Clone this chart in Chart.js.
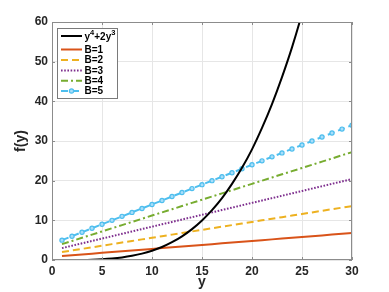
<!DOCTYPE html>
<html>
<head>
<meta charset="utf-8">
<script src="https://cdn.jsdelivr.net/npm/chart.js@4"></script>
<style>
  html, body { margin: 0; padding: 0; background: #fff; }
  #wrap { width: 389px; height: 292px; }
</style>
</head>
<body>
<div id="wrap"><canvas id="chart" width="389" height="292"></canvas></div>
<script>
// values
const yValues = [1,2,3,4,5,6,7,8,9,10,11,12,13,14,15,16,17,18,19,20,21,22,23,24,25,26,27,28,29,30];
const curveValues = [0,0.01,0.03,0.09,0.2,0.38,0.65,1.05,1.6,2.34,3.28,4.49,5.97,7.79,9.97,12.56,15.6,19.2,23.25,27.9,33.3,39.3,46.1,53.6,62.1,71.5];
const b1Values = [1.0,1.2,1.4,1.6,1.8,2.0,2.2,2.4,2.6,2.8,3.0,3.2,3.4,3.6,3.8,4.0,4.2,4.4,4.6,4.8,5.0,5.2,5.4,5.6,5.8,6.0,6.2,6.4,6.6,6.8];
const b2Values = [2.0,2.4,2.8,3.2,3.6,4.0,4.4,4.8,5.2,5.6,6.0,6.4,6.8,7.2,7.6,8.0,8.4,8.8,9.2,9.6,10.0,10.4,10.8,11.2,11.6,12.0,12.4,12.8,13.2,13.6];
const b3Values = [3.0,3.6,4.2,4.8,5.4,6.0,6.6,7.2,7.8,8.4,9.0,9.6,10.2,10.8,11.4,12.0,12.6,13.2,13.8,14.4,15.0,15.6,16.2,16.8,17.4,18.0,18.6,19.2,19.8,20.4];
const b4Values = [4.0,4.8,5.6,6.4,7.2,8.0,8.8,9.6,10.4,11.2,12.0,12.8,13.6,14.4,15.2,16.0,16.8,17.6,18.4,19.2,20.0,20.8,21.6,22.4,23.2,24.0,24.8,25.6,26.4,27.2];
const b5Values = [5,6,7,8,9,10,11,12,13,14,15,16,17,18,19,20,21,22,23,24,25,26,27,28,29,30,31,32,33,34];
const xTicks = [0,5,10,15,20,25,30];
const yTicks = [0,10,20,30,40,50,60];
const seriesNames = ['y^4+2y^3','B=1','B=2','B=3','B=4','B=5'];

const FONT = '"Liberation Sans", Arial, Helvetica, sans-serif';
const AXIS_GRAY = '#8c8c8c';
const TEXT = '#262626';
const MARKER_FILL = '#a9defa';

function pts(vals) {
    return vals.map((v, i) => ({ x: yValues[i], y: v }));
}

const styles = [
    { color: '#000000', dash: [], width: 2 },
    { color: '#D95319', dash: [], width: 2 },
    { color: '#EDB120', dash: [7, 4], width: 2 },
    { color: '#7E2F8E', dash: [1.6, 1.6], width: 2 },
    { color: '#77AC30', dash: [7, 3, 2, 3], width: 2 },
    { color: '#4DBEEE', dash: [7, 4], width: 2, marker: true }
];
const allValues = [curveValues, b1Values, b2Values, b3Values, b4Values, b5Values];

const datasets = allValues.map((vals, i) => ({
    label: seriesNames[i],
    data: pts(vals),
    borderColor: styles[i].color,
    backgroundColor: styles[i].color,
    borderWidth: styles[i].width,
    borderDash: styles[i].dash,
    pointRadius: styles[i].marker ? 2.1 : 0,
    pointBorderWidth: 1.2,
    pointBorderColor: styles[i].color,
    pointBackgroundColor: MARKER_FILL,
    cubicInterpolationMode: i === 0 ? 'monotone' : 'default',
    tension: 0
}));

// box, inward ticks and the legend
const matlabFrame = {
    id: 'matlabFrame',
    afterDraw(chart) {
        const ctx = chart.ctx;
        const a = chart.chartArea;
        const xs = chart.scales.x, ys = chart.scales.y;
        ctx.save();
        ctx.strokeStyle = AXIS_GRAY;
        ctx.lineWidth = 1;
        ctx.setLineDash([]);
        ctx.strokeRect(a.left + 0.5, a.top + 0.5, a.right - a.left - 1, a.bottom - a.top - 1);
        ctx.beginPath();
        xTicks.forEach(t => {
            const px = Math.round(xs.getPixelForValue(t)) + 0.5;
            ctx.moveTo(px, a.bottom); ctx.lineTo(px, a.bottom - 3);
            ctx.moveTo(px, a.top); ctx.lineTo(px, a.top + 3);
        });
        yTicks.forEach(t => {
            const py = Math.round(ys.getPixelForValue(t)) + 0.5;
            ctx.moveTo(a.left, py); ctx.lineTo(a.left + 3, py);
            ctx.moveTo(a.right, py); ctx.lineTo(a.right - 3, py);
        });
        ctx.stroke();

        // legend
        const lx = 57.5, ly = 28.5, lw = 60, lh = 70;
        ctx.fillStyle = '#fff';
        ctx.fillRect(lx, ly, lw, lh);
        ctx.strokeStyle = '#7a7a7a';
        ctx.strokeRect(lx, ly, lw, lh);
        const rows = [36, 49.5, 60, 70.5, 80.8, 91];
        rows.forEach((ry, i) => {
            const st = styles[i];
            ctx.strokeStyle = st.color;
            ctx.lineWidth = st.width;
            ctx.setLineDash(st.dash);
            ctx.beginPath();
            ctx.moveTo(61, ry); ctx.lineTo(82, ry);
            ctx.stroke();
            ctx.setLineDash([]);
            if (st.marker) {
                ctx.beginPath();
                ctx.arc(71.5, ry, 2.1, 0, Math.PI * 2);
                ctx.fillStyle = MARKER_FILL;
                ctx.fill();
                ctx.lineWidth = 1.2;
                ctx.stroke();
            }
            ctx.fillStyle = '#000';
            ctx.textBaseline = 'middle';
            ctx.textAlign = 'left';
            if (i === 0) {
                let x = 84.5;
                const big = 'bold 10px ' + FONT, small = 'bold 7.5px ' + FONT;
                const parts = [['y', big, 1.5], ['4', small, -3.5], ['+2y', big, 1.5], ['3', small, -3.5]];
                parts.forEach(([s, f, dy]) => {
                    ctx.font = f;
                    ctx.fillText(s, x, ry + dy);
                    x += ctx.measureText(s).width;
                });
            } else {
                ctx.font = 'bold 10px ' + FONT;
                ctx.fillText(seriesNames[i], 84.5, ry + 0.5);
            }
        });
        ctx.restore();
    }
};

new Chart(document.getElementById('chart'), {
    type: 'line',
    data: { datasets: datasets },
    plugins: [matlabFrame],
    options: {
        responsive: false,
        animation: false,
        layout: { padding: { left: 0, top: 22, right: 37, bottom: 0 } },
        plugins: {
            legend: { display: false },
            tooltip: { enabled: false }
        },
        scales: {
            x: {
                type: 'linear',
                min: 0, max: 30,
                afterBuildTicks: s => { s.ticks = xTicks.map(v => ({ value: v })); },
                afterFit: s => { s.height = 32; },
                grid: { color: '#e6e6e6', drawTicks: false },
                border: { display: false },
                ticks: { padding: 4, color: TEXT, font: { family: FONT, size: 12, weight: 'bold' }, maxRotation: 0 },
                title: { display: true, text: 'y', color: TEXT, padding: { top: 0, bottom: 1 }, font: { family: FONT, size: 14, weight: 'bold' } }
            },
            y: {
                type: 'linear',
                min: 0, max: 60,
                afterBuildTicks: s => { s.ticks = yTicks.map(v => ({ value: v })); },
                afterFit: s => { s.width = 52; },
                grid: { color: '#e6e6e6', drawTicks: false },
                border: { display: false },
                ticks: { padding: 4, color: TEXT, font: { family: FONT, size: 12, weight: 'bold' } },
                title: { display: true, text: 'f(y)', color: TEXT, padding: { top: 13, bottom: 0 }, font: { family: FONT, size: 14, weight: 'bold' } }
            }
        }
    }
});
</script>
</body>
</html>
